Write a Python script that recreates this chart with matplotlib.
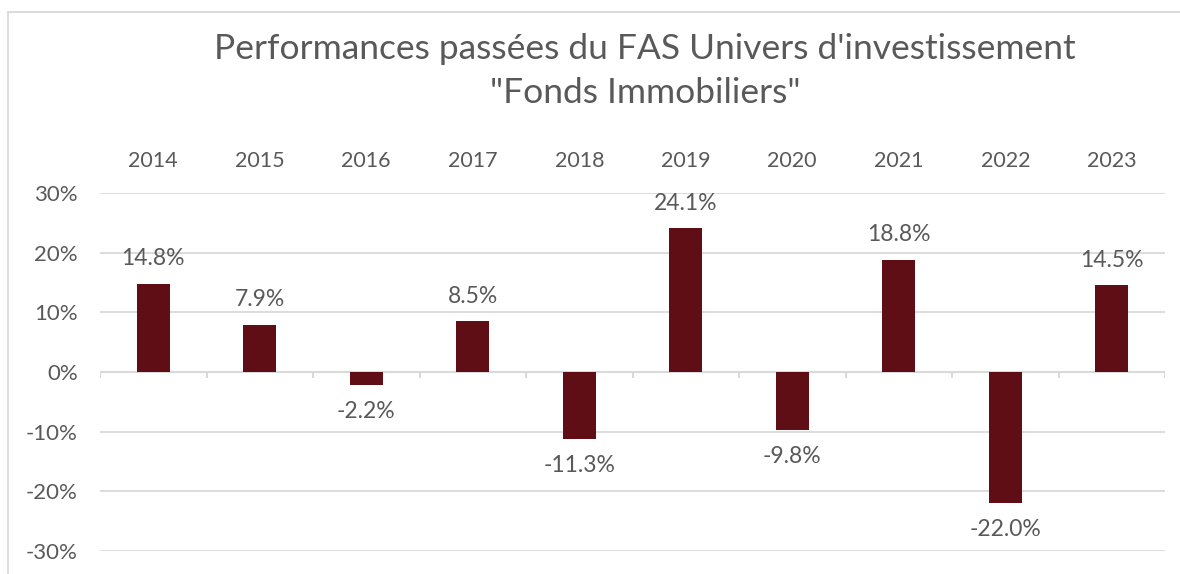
import matplotlib
matplotlib.use("Agg")
import matplotlib.pyplot as plt
from matplotlib.lines import Line2D

years = ["2014", "2015", "2016", "2017", "2018", "2019", "2020", "2021", "2022", "2023"]
perf = [14.8, 7.9, -2.2, 8.5, -11.3, 24.1, -9.8, 18.8, -22.0, 14.5]
yticks = [-30, -20, -10, 0, 10, 20, 30]
title = "Performances passées du FAS Univers d'investissement\n\"Fonds Immobiliers\""

plt.rcParams['font.family'] = ['Lato', 'DejaVu Sans']
TXT = "#595959"
GRID = "#D9D9D9"
BAR = "#5E0E14"

fig = plt.figure(figsize=(11.8, 5.74), dpi=100)
ax = fig.add_axes([100/1180, 1-551/574, 1065/1180, (551-193)/574])

x = list(range(len(years)))
ax.bar(x, perf, width=0.31, color=BAR, zorder=3)
ax.set_xlim(-0.5, len(years) - 0.5)
ax.set_ylim(-30, 30)
ax.set_yticks(yticks)
ax.set_yticklabels([f"{v}%" for v in yticks], fontsize=16, color=TXT)
ax.yaxis.grid(True, color=GRID, linewidth=1.3, zorder=0)
ax.tick_params(axis='y', length=0, pad=16)

ax.xaxis.tick_top()
ax.set_xticks(x)
ax.set_xticklabels(years, fontsize=15.5, color=TXT)
ax.tick_params(axis='x', length=0, pad=16)

for s in ax.spines.values():
    s.set_visible(False)

# zero axis with tick marks at category boundaries
ax.axhline(0, color=GRID, linewidth=1.5, zorder=2)
bounds = [i - 0.5 for i in range(len(years) + 1)]
ax.vlines(bounds, 0, -1.0, color=GRID, linewidth=1.5, zorder=2)

for xi, v in zip(x, perf):
    off = 18 if v >= 0 else -19
    ax.annotate(f"{v:.1f}%", (xi, v), xytext=(0, off), textcoords="offset points",
                ha="center", va="center", fontsize=16.5, color=TXT, zorder=4)

fig.text(645/1180, 1-71/574, title, ha="center", va="center", fontsize=25.5,
         color=TXT, linespacing=1.45)

fig.add_artist(Line2D([8/1180, 8/1180], [0, 1-12/574], transform=fig.transFigure,
                      color=GRID, linewidth=1.3))
fig.add_artist(Line2D([8/1180, 1], [1-12/574, 1-12/574], transform=fig.transFigure,
                      color=GRID, linewidth=1.3))

fig.savefig("out.png", dpi=100)
